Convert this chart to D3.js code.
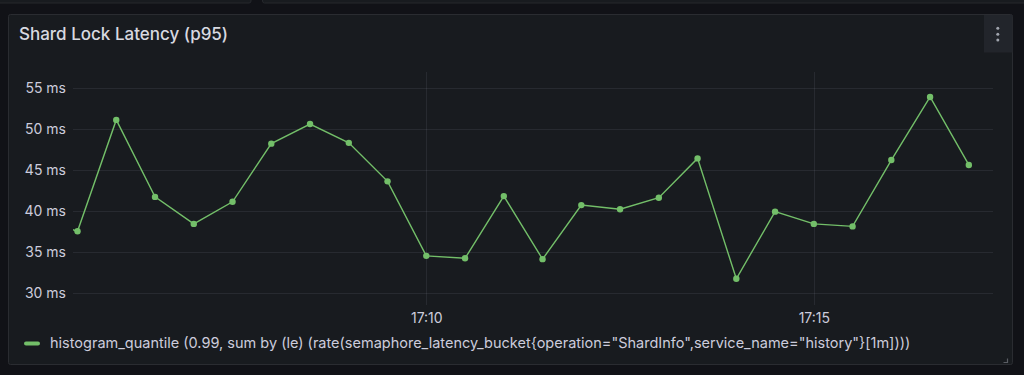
<!DOCTYPE html>
<html><head><meta charset="utf-8">
<script src="https://cdn.jsdelivr.net/npm/d3@7"></script>
<style>
html,body{margin:0;padding:0;background:#111217;overflow:hidden;}
svg{display:block;font-family:Inter,"Noto Sans",sans-serif;}
</style></head>
<body>
<svg id="c" width="1024" height="375"></svg>
<script>
// ---- data ----
const title = "Shard Lock Latency (p95)";
const seriesName = 'histogram_quantile (0.99, sum by (le) (rate(semaphore_latency_bucket{operation="ShardInfo",service_name="history"}[1m])))';
// timestamps every 30s starting 17:05:00 (first one lies just outside the left edge)
const times = ["17:05:00","17:05:30","17:06:00","17:06:30","17:07:00","17:07:30","17:08:00","17:08:30","17:09:00","17:09:30",
  "17:10:00","17:10:30","17:11:00","17:11:30","17:12:00","17:12:30","17:13:00","17:13:30","17:14:00","17:14:30",
  "17:15:00","17:15:30","17:16:00","17:16:30","17:17:00"];
const values = [39.1, 37.5, 51.1, 41.7, 38.4, 41.1, 48.2, 50.6, 48.3, 43.6,
  34.5, 34.2, 41.8, 34.1, 40.7, 40.2, 41.6, 46.4, 31.7, 39.9,
  38.4, 38.1, 46.2, 53.9, 45.6];
const yTicks = [30, 35, 40, 45, 50, 55];
const xTicks = ["17:10:00", "17:15:00"];
const xDomain = ["17:05:26.5", "17:17:18.7"];
const yDomain = [28.5, 56.95];

// ---- helpers ----
const parse = s => { const [h,m,sec] = s.split(":"); return new Date(2024,0,1,+h,+m,0, Math.round(parseFloat(sec)*1000)); };
const data = times.map((t,i)=>({t:parse(t), v:values[i]}));

const svg = d3.select("#c");
// top neighbouring panels
svg.append("rect").attr("x",-2).attr("y",-12).attr("width",253).attr("height",15).attr("rx",2)
  .attr("fill","#181b1f").attr("stroke","#26282d");
svg.append("rect").attr("x",262.5).attr("y",-12).attr("width",770).attr("height",15).attr("rx",2)
  .attr("fill","#181b1f").attr("stroke","#26282d");

// main panel
svg.append("rect").attr("x",8.5).attr("y",14.5).attr("width",1004).attr("height",350).attr("rx",2)
  .attr("fill","#181b1f").attr("stroke","#2a2c31");

svg.append("text").attr("x",19).attr("y",40).attr("fill","#d8d9e0")
  .attr("font-size",17).attr("font-weight",500).text(title);

// menu button
svg.append("rect").attr("x",984).attr("y",15).attr("width",28.5).attr("height",37.5).attr("fill","#22252b");
[28.3,34.2,40].forEach(cy=>svg.append("circle").attr("cx",997.8).attr("cy",cy).attr("r",1.5).attr("fill","#a0a4ad"));

// scales
const pL = 73, pR = 993, pT = 72, pB = 305;
const x = d3.scaleTime().domain(xDomain.map(parse)).range([pL,pR]);
const y = d3.scaleLinear().domain(yDomain).range([pB,pT]);

// grid
const g = svg.append("g");
g.selectAll("line.h").data(yTicks).join("line")
  .attr("x1",pL).attr("x2",pR).attr("y1",d=>Math.round(y(d))+0.5).attr("y2",d=>Math.round(y(d))+0.5)
  .attr("stroke","#ccccdc").attr("stroke-opacity",0.09);
g.selectAll("line.v").data(xTicks.map(parse)).join("line")
  .attr("x1",d=>Math.round(x(d))+0.5).attr("x2",d=>Math.round(x(d))+0.5).attr("y1",pT).attr("y2",pB)
  .attr("stroke","#ccccdc").attr("stroke-opacity",0.09);

// axes labels via d3 axes
const yAxis = d3.axisLeft(y).tickValues(yTicks).tickSize(0).tickPadding(0).tickFormat(d=>d+" ms");
const ya = svg.append("g").attr("transform",`translate(66,0)`).call(yAxis);
ya.select(".domain").remove();
ya.selectAll("text").attr("fill","#ccccdc").attr("font-size",14).attr("font-family","Inter,'Noto Sans',sans-serif");

const xAxis = d3.axisBottom(x).tickValues(xTicks.map(parse)).tickSize(0).tickPadding(0).tickFormat(d3.timeFormat("%H:%M"));
const xa = svg.append("g").attr("transform",`translate(0,313.5)`).call(xAxis);
xa.select(".domain").remove();
xa.selectAll("text").attr("fill","#ccccdc").attr("font-size",14).attr("font-family","Inter,'Noto Sans',sans-serif");

// line
svg.append("clipPath").attr("id","clip").append("rect").attr("x",pL).attr("y",pT-10).attr("width",pR-pL).attr("height",pB-pT+20);
const line = d3.line().x(d=>x(d.t)).y(d=>y(d.v));
svg.append("path").datum(data).attr("clip-path","url(#clip)")
  .attr("d",line).attr("fill","none").attr("stroke","#73bf69").attr("stroke-width",1.4);
svg.append("g").selectAll("circle").data(data.filter(d=>x(d.t)>=pL && x(d.t)<=pR)).join("circle")
  .attr("cx",d=>x(d.t)).attr("cy",d=>y(d.v)).attr("r",3.2).attr("fill","#73bf69");

// legend
svg.append("rect").attr("x",24).attr("y",341.5).attr("width",16).attr("height",4).attr("rx",2).attr("fill","#73bf69");
svg.append("text").attr("x",50).attr("y",348).attr("fill","#ccccdc").attr("font-size",14.5).text(seriesName);

// resize handle
svg.append("path").attr("d","M1003.5 362.5 H1007.5 V358.5").attr("fill","none").attr("stroke","#5a5d64").attr("stroke-width",1.2);
</script>
</body></html>
